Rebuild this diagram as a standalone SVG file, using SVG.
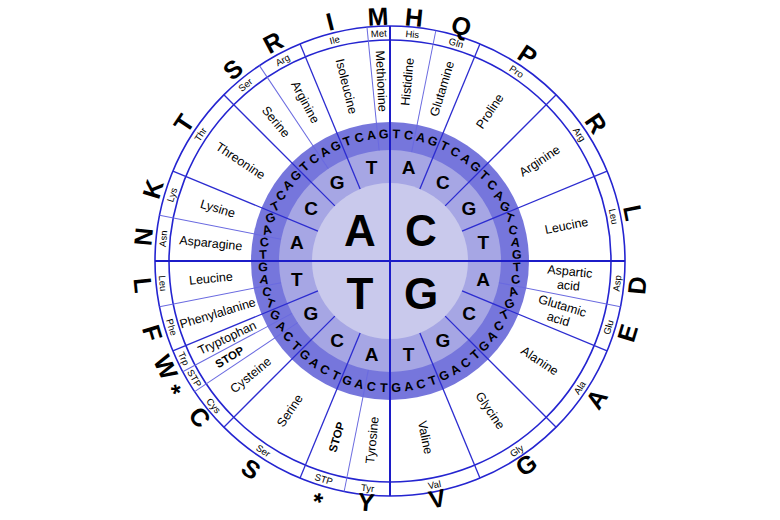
<svg xmlns="http://www.w3.org/2000/svg" width="780" height="520" viewBox="0 0 780 520">
<style>
text{font-family:"Liberation Sans",Arial,sans-serif;fill:#000;text-anchor:middle;dominant-baseline:central}
.big{font-size:25px;font-weight:bold}
.ab{font-size:9.5px}
.aa{font-size:12.5px}
.stop{font-size:11.5px;font-weight:bold}
.r3{font-size:12.5px;font-weight:bold}
.r2{font-size:19px;font-weight:bold}
.c{font-size:44px;font-weight:bold}
.thick{stroke:#2c2cd0;stroke-width:1.3}
.thin{stroke:#6a6ae0;stroke-width:1}
.axis{stroke:#1c1cc8;stroke-width:2}
.ring{fill:none;stroke:#2424d0;stroke-width:1.6}
</style>
<rect width="780" height="520" fill="#fff"/>
<g transform="translate(390 261)">
<g id="rings">
<circle r="139" fill="#7676dc"/>
<circle r="111" fill="#a6a6e4"/>
<circle r="78" fill="#c9c9ec"/>
<circle class="ring" r="221"/>
<circle class="ring" r="235"/>
</g>
<g id="connectors">
<line class="axis" x1="0" y1="-235" x2="0" y2="235"/>
<line class="axis" x1="-235" y1="0" x2="235" y2="0"/>
<g class="thick">
<line y1="-78" y2="-235" transform="rotate(22.5)"/>
<line y1="-78" y2="-235" transform="rotate(45)"/>
<line y1="-78" y2="-235" transform="rotate(67.5)"/>
<line y1="-78" y2="-235" transform="rotate(112.5)"/>
<line y1="-78" y2="-235" transform="rotate(135)"/>
<line y1="-78" y2="-235" transform="rotate(157.5)"/>
<line y1="-78" y2="-235" transform="rotate(202.5)"/>
<line y1="-78" y2="-235" transform="rotate(225)"/>
<line y1="-78" y2="-235" transform="rotate(247.5)"/>
<line y1="-78" y2="-235" transform="rotate(292.5)"/>
<line y1="-78" y2="-235" transform="rotate(315)"/>
<line y1="-78" y2="-235" transform="rotate(337.5)"/>
</g>
<g class="thin">
<line y1="-111" y2="-235" transform="rotate(11.25)"/>
<line y1="-111" y2="-235" transform="rotate(101.25)"/>
<line y1="-111" y2="-235" transform="rotate(191.25)"/>
<line y1="-111" y2="-235" transform="rotate(236.25)"/>
<line y1="-111" y2="-235" transform="rotate(241.875)"/>
<line y1="-111" y2="-235" transform="rotate(258.75)"/>
<line y1="-111" y2="-235" transform="rotate(281.25)"/>
<line y1="-111" y2="-235" transform="rotate(326.25)"/>
<line y1="-111" y2="-235" transform="rotate(354.375)"/>
</g>
</g>
<g id="first-base">
<text class="c" x="-30" y="-31">A</text>
<text class="c" x="31" y="-31">C</text>
<text class="c" x="-30" y="32">T</text>
<text class="c" x="31" y="32">G</text>
</g>
<g id="second-base">
<text class="r2" x="18.5" y="-93.2">A</text>
<text class="r2" x="52.8" y="-79">C</text>
<text class="r2" x="79" y="-52.8">G</text>
<text class="r2" x="93.2" y="-18.5">T</text>
<text class="r2" x="93.2" y="18.5">A</text>
<text class="r2" x="79" y="52.8">C</text>
<text class="r2" x="52.8" y="79">G</text>
<text class="r2" x="18.5" y="93.2">T</text>
<text class="r2" x="-18.5" y="93.2">A</text>
<text class="r2" x="-52.8" y="79">C</text>
<text class="r2" x="-79" y="52.8">G</text>
<text class="r2" x="-93.2" y="18.5">T</text>
<text class="r2" x="-93.2" y="-18.5">A</text>
<text class="r2" x="-79" y="-52.8">C</text>
<text class="r2" x="-52.8" y="-79">G</text>
<text class="r2" x="-18.5" y="-93.2">T</text>
</g>
<g id="third-base">
<text class="r3" transform="rotate(2.8125) translate(0 -127)">T</text>
<text class="r3" transform="rotate(8.4375) translate(0 -127)">C</text>
<text class="r3" transform="rotate(14.0625) translate(0 -127)">A</text>
<text class="r3" transform="rotate(19.6875) translate(0 -127)">G</text>
<text class="r3" transform="rotate(25.3125) translate(0 -127)">T</text>
<text class="r3" transform="rotate(30.9375) translate(0 -127)">C</text>
<text class="r3" transform="rotate(36.5625) translate(0 -127)">A</text>
<text class="r3" transform="rotate(42.1875) translate(0 -127)">G</text>
<text class="r3" transform="rotate(47.8125) translate(0 -127) rotate(-5.625)">T</text>
<text class="r3" transform="rotate(53.4375) translate(0 -127) rotate(-16.875)">C</text>
<text class="r3" transform="rotate(59.0625) translate(0 -127) rotate(-28.125)">A</text>
<text class="r3" transform="rotate(64.6875) translate(0 -127) rotate(-39.375)">G</text>
<text class="r3" transform="rotate(70.3125) translate(0 -127) rotate(-50.625)">T</text>
<text class="r3" transform="rotate(75.9375) translate(0 -127) rotate(-61.875)">C</text>
<text class="r3" transform="rotate(81.5625) translate(0 -127) rotate(-73.125)">A</text>
<text class="r3" transform="rotate(87.1875) translate(0 -127) rotate(-84.375)">G</text>
<text class="r3" transform="rotate(92.8125) translate(0 -127) rotate(-95.625)">T</text>
<text class="r3" transform="rotate(98.4375) translate(0 -127) rotate(-106.875)">C</text>
<text class="r3" transform="rotate(104.0625) translate(0 -127) rotate(-118.125)">A</text>
<text class="r3" transform="rotate(109.6875) translate(0 -127) rotate(-129.375)">G</text>
<text class="r3" transform="rotate(115.3125) translate(0 -127) rotate(-140.625)">T</text>
<text class="r3" transform="rotate(120.9375) translate(0 -127) rotate(-151.875)">C</text>
<text class="r3" transform="rotate(126.5625) translate(0 -127) rotate(-163.125)">A</text>
<text class="r3" transform="rotate(132.1875) translate(0 -127) rotate(-174.375)">G</text>
<text class="r3" transform="rotate(137.8125) translate(0 -127) rotate(180)">T</text>
<text class="r3" transform="rotate(143.4375) translate(0 -127) rotate(180)">C</text>
<text class="r3" transform="rotate(149.0625) translate(0 -127) rotate(180)">A</text>
<text class="r3" transform="rotate(154.6875) translate(0 -127) rotate(180)">G</text>
<text class="r3" transform="rotate(160.3125) translate(0 -127) rotate(180)">T</text>
<text class="r3" transform="rotate(165.9375) translate(0 -127) rotate(180)">C</text>
<text class="r3" transform="rotate(171.5625) translate(0 -127) rotate(180)">A</text>
<text class="r3" transform="rotate(177.1875) translate(0 -127) rotate(180)">G</text>
<text class="r3" transform="rotate(182.8125) translate(0 -127) rotate(180)">T</text>
<text class="r3" transform="rotate(188.4375) translate(0 -127) rotate(180)">C</text>
<text class="r3" transform="rotate(194.0625) translate(0 -127) rotate(180)">A</text>
<text class="r3" transform="rotate(199.6875) translate(0 -127) rotate(180)">G</text>
<text class="r3" transform="rotate(205.3125) translate(0 -127) rotate(180)">T</text>
<text class="r3" transform="rotate(210.9375) translate(0 -127) rotate(180)">C</text>
<text class="r3" transform="rotate(216.5625) translate(0 -127) rotate(180)">A</text>
<text class="r3" transform="rotate(222.1875) translate(0 -127) rotate(180)">G</text>
<text class="r3" transform="rotate(227.8125) translate(0 -127) rotate(174.375)">T</text>
<text class="r3" transform="rotate(233.4375) translate(0 -127) rotate(163.125)">C</text>
<text class="r3" transform="rotate(239.0625) translate(0 -127) rotate(151.875)">A</text>
<text class="r3" transform="rotate(244.6875) translate(0 -127) rotate(140.625)">G</text>
<text class="r3" transform="rotate(250.3125) translate(0 -127) rotate(129.375)">T</text>
<text class="r3" transform="rotate(255.9375) translate(0 -127) rotate(118.125)">C</text>
<text class="r3" transform="rotate(261.5625) translate(0 -127) rotate(106.875)">A</text>
<text class="r3" transform="rotate(267.1875) translate(0 -127) rotate(95.625)">G</text>
<text class="r3" transform="rotate(272.8125) translate(0 -127) rotate(84.375)">T</text>
<text class="r3" transform="rotate(278.4375) translate(0 -127) rotate(73.125)">C</text>
<text class="r3" transform="rotate(284.0625) translate(0 -127) rotate(61.875)">A</text>
<text class="r3" transform="rotate(289.6875) translate(0 -127) rotate(50.625)">G</text>
<text class="r3" transform="rotate(295.3125) translate(0 -127) rotate(39.375)">T</text>
<text class="r3" transform="rotate(300.9375) translate(0 -127) rotate(28.125)">C</text>
<text class="r3" transform="rotate(306.5625) translate(0 -127) rotate(16.875)">A</text>
<text class="r3" transform="rotate(312.1875) translate(0 -127) rotate(5.625)">G</text>
<text class="r3" transform="rotate(317.8125) translate(0 -127)">T</text>
<text class="r3" transform="rotate(323.4375) translate(0 -127)">C</text>
<text class="r3" transform="rotate(329.0625) translate(0 -127)">A</text>
<text class="r3" transform="rotate(334.6875) translate(0 -127)">G</text>
<text class="r3" transform="rotate(340.3125) translate(0 -127)">T</text>
<text class="r3" transform="rotate(345.9375) translate(0 -127)">C</text>
<text class="r3" transform="rotate(351.5625) translate(0 -127)">A</text>
<text class="r3" transform="rotate(357.1875) translate(0 -127)">G</text>
</g>
<g id="amino-acids">
<text class="aa" transform="rotate(5.625) translate(0 -180) rotate(-90)">Histidine</text>
<text class="aa" transform="rotate(16.875) translate(0 -180) rotate(-90)">Glutamine</text>
<text class="aa" transform="rotate(33.75) translate(0 -180) rotate(-90)">Proline</text>
<text class="aa" transform="rotate(56.25) translate(0 -180) rotate(-90)">Arginine</text>
<text class="aa" transform="rotate(78.75) translate(0 -180) rotate(-90)">Leucine</text>
<text class="aa" transform="rotate(95.625) translate(0 -180) rotate(-90)"><tspan x="0" y="-7">Aspartic</tspan><tspan x="0" y="7">acid</tspan></text>
<text class="aa" transform="rotate(106.875) translate(0 -178) rotate(-90)"><tspan x="0" y="-7">Glutamic</tspan><tspan x="0" y="7">acid</tspan></text>
<text class="aa" transform="rotate(123.75) translate(0 -180) rotate(-90)">Alanine</text>
<text class="aa" transform="rotate(146.25) translate(0 -180) rotate(-90)">Glycine</text>
<text class="aa" transform="rotate(168.75) translate(0 -180) rotate(-90)">Valine</text>
<text class="aa" transform="rotate(185.625) translate(0 -180) rotate(90)">Tyrosine</text>
<text class="stop" transform="rotate(196.875) translate(0 -184) rotate(90)">STOP</text>
<text class="aa" transform="rotate(213.75) translate(0 -180) rotate(90)">Serine</text>
<text class="aa" transform="rotate(230.625) translate(0 -180) rotate(90)">Cysteine</text>
<text class="stop" transform="rotate(239.0625) translate(0 -187) rotate(90)">STOP</text>
<text class="aa" transform="rotate(244.6875) translate(0 -180) rotate(90)">Tryptophan</text>
<text class="aa" transform="rotate(253.125) translate(0 -180) rotate(90)">Phenylalanine</text>
<text class="aa" transform="rotate(264.375) translate(0 -180) rotate(90)">Leucine</text>
<text class="aa" transform="rotate(275.625) translate(0 -180) rotate(90)">Asparagine</text>
<text class="aa" transform="rotate(286.875) translate(0 -180) rotate(90)">Lysine</text>
<text class="aa" transform="rotate(303.75) translate(0 -180) rotate(90)">Threonine</text>
<text class="aa" transform="rotate(320.625) translate(0 -180) rotate(90)">Serine</text>
<text class="aa" transform="rotate(331.875) translate(0 -180) rotate(90)">Arginine</text>
<text class="aa" transform="rotate(345.9375) translate(0 -180) rotate(90)">Isoleucine</text>
<text class="aa" transform="rotate(357.1875) translate(0 -180) rotate(90)">Methionine</text>
</g>
<g id="abbreviations">
<text class="ab" transform="rotate(5.625) translate(0 -228)">His</text>
<text class="ab" transform="rotate(16.875) translate(0 -228)">Gln</text>
<text class="ab" transform="rotate(33.75) translate(0 -228)">Pro</text>
<text class="ab" transform="rotate(56.25) translate(0 -228)">Arg</text>
<text class="ab" transform="rotate(78.75) translate(0 -228)">Leu</text>
<text class="ab" transform="rotate(95.625) translate(0 -228) rotate(180)">Asp</text>
<text class="ab" transform="rotate(106.875) translate(0 -228) rotate(180)">Glu</text>
<text class="ab" transform="rotate(123.75) translate(0 -228) rotate(180)">Ala</text>
<text class="ab" transform="rotate(146.25) translate(0 -228) rotate(180)">Gly</text>
<text class="ab" transform="rotate(168.75) translate(0 -228) rotate(180)">Val</text>
<text class="ab" transform="rotate(185.625) translate(0 -228) rotate(180)">Tyr</text>
<text class="ab" transform="rotate(196.875) translate(0 -228) rotate(180)">STP</text>
<text class="ab" transform="rotate(213.75) translate(0 -228) rotate(180)">Ser</text>
<text class="ab" transform="rotate(230.625) translate(0 -228) rotate(180)">Cys</text>
<text class="ab" transform="rotate(239.0625) translate(0 -228) rotate(180)">STP</text>
<text class="ab" transform="rotate(244.6875) translate(0 -228) rotate(180)">Trp</text>
<text class="ab" transform="rotate(253.125) translate(0 -228) rotate(180)">Phe</text>
<text class="ab" transform="rotate(264.375) translate(0 -228) rotate(180)">Leu</text>
<text class="ab" transform="rotate(275.625) translate(0 -228)">Asn</text>
<text class="ab" transform="rotate(286.875) translate(0 -228)">Lys</text>
<text class="ab" transform="rotate(303.75) translate(0 -228)">Thr</text>
<text class="ab" transform="rotate(320.625) translate(0 -228)">Ser</text>
<text class="ab" transform="rotate(331.875) translate(0 -228)">Arg</text>
<text class="ab" transform="rotate(345.9375) translate(0 -228)">Ile</text>
<text class="ab" transform="rotate(357.1875) translate(0 -228)">Met</text>
</g>
<g id="one-letter-codes">
<text class="big" transform="rotate(5.625) translate(0 -245)">H</text>
<text class="big" transform="rotate(16.875) translate(0 -246)">Q</text>
<text class="big" transform="rotate(33.75) translate(0 -248)">P</text>
<text class="big" transform="rotate(56.25) translate(0 -248)">R</text>
<text class="big" transform="rotate(78.75) translate(0 -248)">L</text>
<text class="big" transform="rotate(95.625) translate(0 -248) rotate(180)">D</text>
<text class="big" transform="rotate(106.875) translate(0 -248) rotate(180)">E</text>
<text class="big" transform="rotate(123.75) translate(0 -248) rotate(180)">A</text>
<text class="big" transform="rotate(146.25) translate(0 -245) rotate(180)">G</text>
<text class="big" transform="rotate(168.75) translate(0 -242) rotate(180)">V</text>
<text class="big" transform="rotate(185.625) translate(0 -242) rotate(180)">Y</text>
<text class="big" transform="rotate(196.875) translate(0 -244) rotate(180)" dy="7">*</text>
<text class="big" transform="rotate(213.75) translate(0 -250) rotate(180)">S</text>
<text class="big" transform="rotate(230.625) translate(0 -246) rotate(180)">C</text>
<text class="big" transform="rotate(239.0625) translate(0 -246) rotate(180)" dy="7">*</text>
<text class="big" transform="rotate(244.6875) translate(0 -248) rotate(180)">W</text>
<text class="big" transform="rotate(253.125) translate(0 -248) rotate(180)">F</text>
<text class="big" transform="rotate(264.375) translate(0 -248) rotate(180)">L</text>
<text class="big" transform="rotate(275.625) translate(0 -248)">N</text>
<text class="big" transform="rotate(286.875) translate(0 -248)">K</text>
<text class="big" transform="rotate(303.75) translate(0 -248)">T</text>
<text class="big" transform="rotate(320.625) translate(0 -248)">S</text>
<text class="big" transform="rotate(331.875) translate(0 -248)">R</text>
<text class="big" transform="rotate(345.9375) translate(0 -247)">I</text>
<text class="big" transform="rotate(357.1875) translate(0 -245)">M</text>
</g>
</g>
</svg>
